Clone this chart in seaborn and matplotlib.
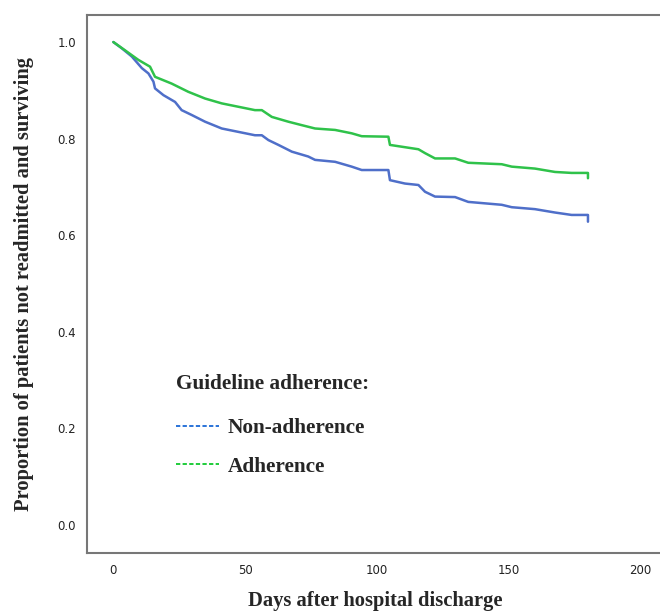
import matplotlib
matplotlib.use('Agg')
import pandas as pd
import matplotlib.pyplot as plt
import seaborn as sns
from matplotlib.lines import Line2D
from matplotlib.font_manager import FontProperties

# valores (dias, proporcao)
dias_nao = [0, 3.2, 7.0, 10.8, 13.3, 15.2, 15.8, 19.0, 23.4, 25.9, 29.7, 34.8, 41.1, 47.4, 53.7,
            56.3, 58.8, 62.6, 67.7, 73.9, 76.5, 84.1, 90.4, 94.2, 104.3, 104.9, 110.6, 115.7,
            118.2, 122.0, 129.6, 134.6, 147.3, 151.1, 159.9, 167.5, 173.8, 180.0, 180.0]
prop_nao = [1.0, 0.987, 0.970, 0.946, 0.935, 0.918, 0.904, 0.890, 0.876, 0.859, 0.849, 0.835, 0.821,
            0.814, 0.807, 0.807, 0.797, 0.787, 0.773, 0.763, 0.756, 0.752, 0.742, 0.735, 0.735,
            0.714, 0.707, 0.704, 0.690, 0.680, 0.679, 0.669, 0.663, 0.658, 0.654, 0.647, 0.642,
            0.642, 0.628]

dias_ade = [0, 4.4, 9.5, 13.9, 15.8, 22.1, 28.4, 34.8, 41.1, 47.4, 53.7, 56.3, 60.1, 66.4, 71.4,
            76.5, 84.1, 90.4, 94.2, 104.3, 104.9, 115.7, 118.2, 122.0, 129.6, 134.6, 147.3, 151.1,
            159.9, 167.5, 173.8, 180.0, 180.0]
prop_ade = [1.0, 0.983, 0.963, 0.949, 0.928, 0.914, 0.897, 0.883, 0.873, 0.866, 0.859, 0.859,
            0.845, 0.835, 0.828, 0.821, 0.818, 0.811, 0.805, 0.804, 0.787, 0.778, 0.770, 0.759,
            0.759, 0.750, 0.747, 0.742, 0.738, 0.731, 0.729, 0.729, 0.718]

grupos = ['Non-adherence', 'Adherence']
cores = ['#4f6fc9', '#2fc24a']
cores_legenda = ['#2a73d8', '#1fcc3a']

df = pd.concat([
    pd.DataFrame({'dias': dias_nao, 'prop': prop_nao, 'grupo': grupos[0]}),
    pd.DataFrame({'dias': dias_ade, 'prop': prop_ade, 'grupo': grupos[1]}),
], ignore_index=True)

sns.set_style('white')
fig = plt.figure(figsize=(6.6, 6.13), dpi=100)
ax = fig.add_axes([87 / 660, 60 / 613, 574 / 660, 538 / 613])

sns.lineplot(data=df, x='dias', y='prop', hue='grupo', palette=dict(zip(grupos, cores)),
             linewidth=1.8, legend=False, ax=ax, estimator=None, sort=False)

ax.set_xlim(-10, 207.7)
ax.set_ylim(-0.058, 1.056)
ax.set_xticks([0, 50, 100, 150, 200])
ax.set_yticks([0.0, 0.2, 0.4, 0.6, 0.8, 1.0])
ax.set_yticklabels(['0.0', '0.2', '0.4', '0.6', '0.8', '1.0'])
ax.tick_params(axis='both', direction='out', length=5, width=1.2, color='#555555',
               labelsize=8.5, labelcolor='#222222', pad=3)

for lado in ['left', 'bottom', 'top']:
    ax.spines[lado].set_color('#777777')
    ax.spines[lado].set_linewidth(1.5)
ax.spines['right'].set_visible(False)

fonte = {'family': 'Liberation Serif', 'weight': 'bold', 'size': 14.8}
ax.set_xlabel('Days after hospital discharge', fontdict=fonte)
ax.set_ylabel('Proportion of patients not readmitted and surviving', fontdict=fonte)
ax.xaxis.set_label_coords(0.503, -0.071)
ax.yaxis.set_label_coords(-0.092, 0.5)

handles = [Line2D([], [], color=c, linestyle=(0, (2.2, 1.2)), linewidth=1.4) for c in cores_legenda]
leg = ax.legend(handles, grupos, title='Guideline adherence:', loc='upper left',
                bbox_to_anchor=(0.141, 0.349), frameon=False, handlelength=2.0,
                handletextpad=0.4, labelspacing=0.88, borderaxespad=0,
                prop={'family': 'Liberation Serif', 'weight': 'bold', 'size': 15.3})
leg.get_title().set_fontproperties(FontProperties(family='Liberation Serif', weight='bold', size=15.3))
leg._legend_box.align = 'left'
leg._legend_box.sep = 17.5  # mais espaco entre titulo e itens

fig.savefig('out.png', dpi=100)
